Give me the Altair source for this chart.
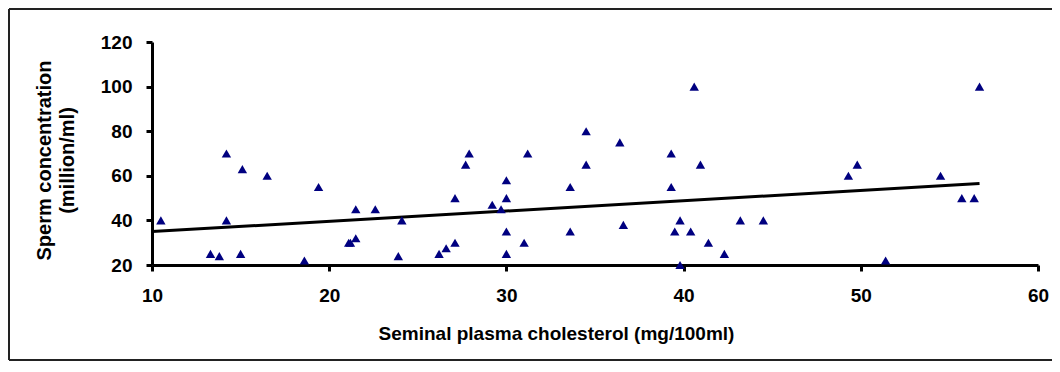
import altair as alt
import pandas as pd

# Data
cholesterol = [10.5, 13.3, 13.8, 14.2, 14.2, 15.0, 15.1, 16.5, 18.6, 19.4,
               21.1, 21.2, 21.5, 21.5, 22.6, 23.9, 24.1, 26.2, 26.6, 27.1,
               27.1, 27.7, 27.9, 29.2, 29.7, 30.0, 30.0, 30.0, 30.0, 31.0,
               31.2, 33.6, 33.6, 34.5, 34.5, 36.4, 36.6, 39.3, 39.3, 39.5,
               39.8, 39.8, 40.4, 40.6, 40.95, 41.4, 42.3, 43.2, 44.5, 49.3,
               49.8, 51.4, 54.5, 55.7, 56.4, 56.7]
sperm_conc = [40, 25, 24, 70, 40, 25, 63, 60, 22, 55,
              30, 30, 32, 45, 45, 24, 40, 25, 27.5, 30,
              50, 65, 70, 47, 45, 50, 58, 35, 25, 30,
              70, 55, 35, 80, 65, 75, 38, 70, 55, 35,
              40, 20, 35, 100, 65, 30, 25, 40, 40, 60,
              65, 22, 60, 50, 50, 100]
trend_x = [10, 56.7]
trend_y = [35.0, 56.5]

x_ticks = [10, 20, 30, 40, 50, 60]
y_ticks = [20, 40, 60, 80, 100, 120]

pts = pd.DataFrame({"x": cholesterol, "y": sperm_conc})
trend = pd.DataFrame({"x": trend_x, "y": trend_y})
frame = pd.DataFrame({"k": [0]})

FONT = "Liberation Sans"

xscale = alt.Scale(domain=[10, 60], nice=False, zero=False)
yscale = alt.Scale(domain=[20, 120], nice=False, zero=False)

common_axis = dict(
    grid=False, domainColor="black", domainWidth=3,
    tickColor="black", tickWidth=3, tickSize=6,
    labelFont=FONT, labelFontSize=19, labelFontWeight="bold", labelColor="black",
    titleFont=FONT, titleFontWeight="bold", titleColor="black",
    labelFlush=False, labelOverlap=False,
)

xaxis = alt.Axis(values=x_ticks, title="Seminal plasma cholesterol (mg/100ml)",
                 labelPadding=15, titleFontSize=19, titleX=404, titleY=68,
                 titleBaseline="middle", titleAlign="center", **common_axis)
yaxis = alt.Axis(values=y_ticks, title=["Sperm concentration", "(million/ml)"],
                 labelPadding=14, titleFontSize=20, titleX=-108, titleY=118,
                 titleAngle=270, titleBaseline="middle", titleAlign="center",
                 titleLineHeight=23, **common_axis)

# Outer frame (left, top and bottom edges only, as in the reference)
frame_style = dict(color="#222222", strokeWidth=2)
frame_top = alt.Chart(frame).mark_rule(**frame_style).encode(
    x=alt.value(-143), x2=alt.value(910), y=alt.value(-33))
frame_left = alt.Chart(frame).mark_rule(**frame_style).encode(
    x=alt.value(-143), y=alt.value(-33), y2=alt.value(318))
frame_bottom = alt.Chart(frame).mark_rule(**frame_style).encode(
    x=alt.value(-143), x2=alt.value(910), y=alt.value(318))

line = alt.Chart(trend).mark_line(color="black", strokeWidth=3).encode(
    x=alt.X("x:Q", scale=xscale, axis=xaxis),
    y=alt.Y("y:Q", scale=yscale, axis=yaxis),
)

points = alt.Chart(pts).mark_point(shape="triangle-up", filled=True, color="#000080",
                                   size=88, opacity=1).encode(
    x=alt.X("x:Q", scale=xscale),
    y=alt.Y("y:Q", scale=yscale),
)

chart = alt.layer(frame_top, frame_left, frame_bottom, line, points).properties(
    width=886, height=223,
    autosize=alt.AutoSizeParams(type="none"),
    padding={"left": 144, "top": 34, "right": 14, "bottom": 97},
    background="white",
).configure_view(strokeWidth=0)

chart.save("out.html", embed_options={"renderer": "svg", "actions": False})
